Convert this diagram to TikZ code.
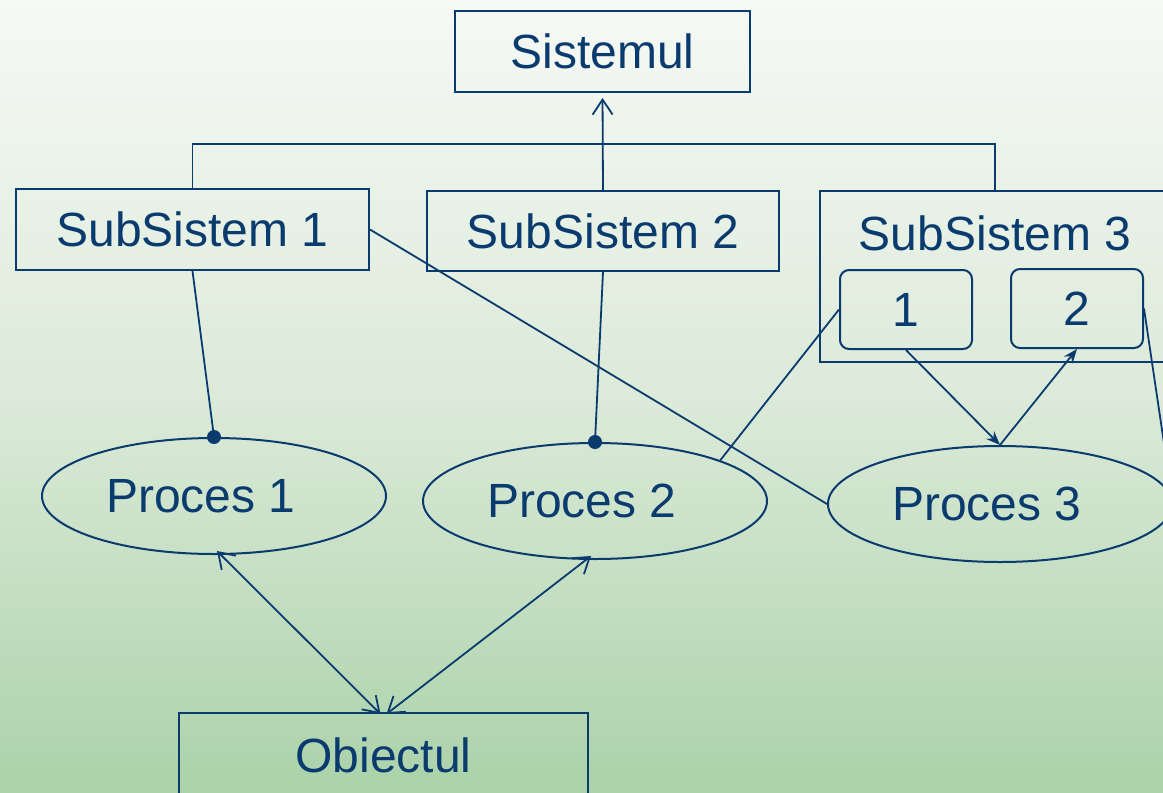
\documentclass[tikz,border=0pt]{standalone}
\usepackage{fontspec}
\setmainfont{Liberation Sans}
\usetikzlibrary{arrows.meta,shapes.geometric,calc}
\definecolor{ink}{HTML}{0A3B6E}
\definecolor{bgtop}{HTML}{F6F9F5}
\definecolor{bgmid}{HTML}{DCEAD9}
\definecolor{bgbot}{HTML}{ABD2A9}
\tikzset{
  every node/.style={font=\fontsize{48}{57}\selectfont, text=ink, inner sep=0pt},
  rectbox/.style={draw=ink, line width=2pt},
  roundbox/.style={draw=ink, line width=2pt, rounded corners=9pt},
  procell/.style={draw=ink, line width=2pt, ellipse, minimum width=344pt, minimum height=116pt},
  conn/.style={draw=ink, line width=1.8pt},
  openhead/.style={conn, -{Straight Barb[length=15pt,width=20pt,line width=1.8pt]}},
  openboth/.style={conn, {Straight Barb[length=15pt,width=20pt,line width=1.8pt]}-{Straight Barb[length=15pt,width=20pt,line width=1.8pt]}},
  fillhead/.style={conn, -{Stealth[length=14pt,width=11pt]}},
  dotmark/.style={fill=ink}
}
\begin{document}
\begin{tikzpicture}[x=1pt,y=-1pt]
\useasboundingbox (0,0) rectangle (1163,793);
\clip (0,0) rectangle (1163,793);
\shade[top color=bgtop, bottom color=bgbot, middle color=bgmid] (0,0) rectangle (1163,793);

\node[rectbox, minimum width=295pt, minimum height=81pt] (sis) at (602.5,51.5) {Sistemul};
\node[rectbox, minimum width=353pt, minimum height=81pt] (ss1) at (192.5,229.5) {SubSistem 1};
\node[rectbox, minimum width=352pt, minimum height=80pt] (ss2) at (603,231) {SubSistem 2};
\node[rectbox, minimum width=350pt, minimum height=171pt] (ss3) at (995,276.5) {};
\node (ss3t) at (995,233) {SubSistem 3};
\node[roundbox, minimum width=132pt, minimum height=79pt] (b1) at (906,309.5) {1};
\node[roundbox, minimum width=132pt, minimum height=79pt] (b2) at (1077,308.5) {2};
\node[procell] (p1) at (214,496) {Proces 1\rule{26pt}{0pt}};
\node[procell] (p2) at (595,501) {Proces 2\rule{26pt}{0pt}};
\node[procell] (p3) at (1000,504) {Proces 3\rule{26pt}{0pt}};
\node[rectbox, minimum width=409pt, minimum height=84pt] (ob) at (383.5,755) {Obiectul};

% hierarchy bar
\draw[conn] (ss1.north) -- ++(0,-44) -| (ss3.north);
\draw[openhead, shorten >=5pt] (ss2.north) -- (sis.south);

% subsystems to processes
\draw[conn] (ss1.south) -- (p1.north);
\fill[dotmark] (p1.north) circle (7pt);
\draw[conn] (ss2.south) -- (p2.north);
\fill[dotmark] (p2.north) circle (7pt);
\draw[conn] (ss1.east) -- (p3.west);
\draw[conn] (b1.west) -- (p2.18.6);
\draw[fillhead] (b1.south) -- (p3.north);
\draw[fillhead] (p3.north) -- (b2.south);
\draw[conn] (b2.east) -- (p3.east);

% processes to object
\draw[openboth] ([xshift=3pt,yshift=4pt]p1.south) -- ([xshift=-3pt,yshift=-2pt]ob.north);
\draw[openboth] ([xshift=-4pt,yshift=4pt]p2.south) -- ([xshift=3pt,yshift=-2pt]ob.north);
\end{tikzpicture}
\end{document}
